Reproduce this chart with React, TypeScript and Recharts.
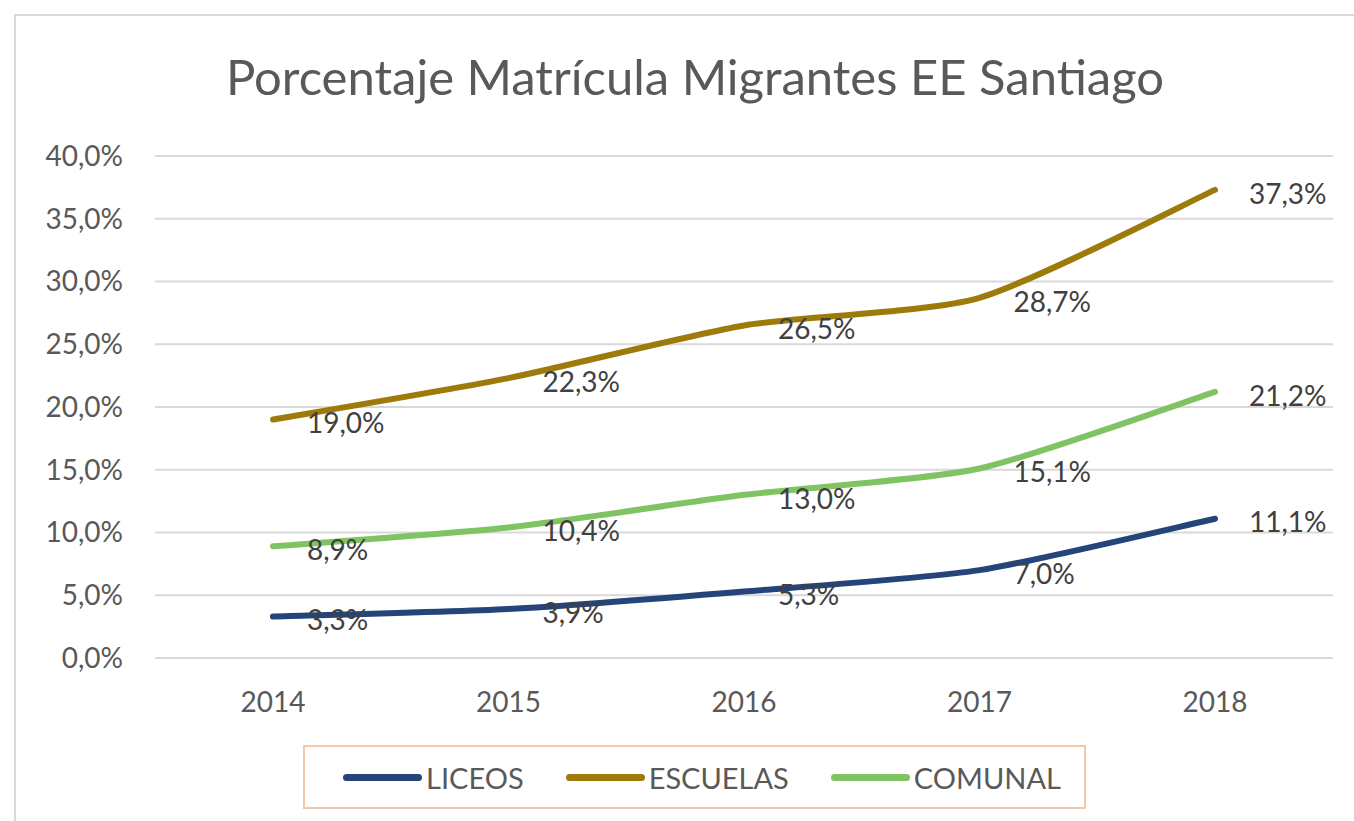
import React from 'react';
import { LineChart, Line, XAxis, YAxis, CartesianGrid, LabelList } from 'recharts';

const years = ['2014', '2015', '2016', '2017', '2018'];
const liceos = [3.3, 3.9, 5.3, 7.0, 11.1];
const escuelas = [19.0, 22.3, 26.5, 28.7, 37.3];
const comunal = [8.9, 10.4, 13.0, 15.1, 21.2];
const yTicks = [0, 5, 10, 15, 20, 25, 30, 35, 40];

const series = [
    { key: 'liceos', name: 'LICEOS', color: '#24447a' },
    { key: 'escuelas', name: 'ESCUELAS', color: '#9c7b0b' },
    { key: 'comunal', name: 'COMUNAL', color: '#80c363' },
];

const data = years.map((year, i) => ({
    year,
    liceos: liceos[i],
    escuelas: escuelas[i],
    comunal: comunal[i],
}));

const fmt = (v: number) => `${v.toFixed(1).replace('.', ',')}%`;
const FONT = 'Lato, "Open Sans", sans-serif';

// excel-like smoothed line (cardinal bezier, lower tension)
const curveSmooth = (context: any) => {
    let pts: number[][] = [];
    return {
        areaStart() {},
        areaEnd() {},
        lineStart() {
            pts = [];
        },
        point(x: number, y: number) {
            pts.push([+x, +y]);
        },
        lineEnd() {
            if (!pts.length) return;
            context.moveTo(pts[0][0], pts[0][1]);
            const t = 0.11;
            for (let i = 0; i < pts.length - 1; i++) {
                const p0 = pts[i - 1] || pts[i];
                const p1 = pts[i];
                const p2 = pts[i + 1];
                const p3 = pts[i + 2] || p2;
                context.bezierCurveTo(
                    p1[0] + (p2[0] - p0[0]) * t,
                    p1[1] + (p2[1] - p0[1]) * t,
                    p2[0] - (p3[0] - p1[0]) * t,
                    p2[1] - (p3[1] - p1[1]) * t,
                    p2[0],
                    p2[1]
                );
            }
        },
    };
};

const PointLabel = (props: any) => {
    const { x, y, value } = props;
    return (
        <text x={x + 34} y={y + 4} dy="0.35em" fill="#404040" fontSize={28} fontFamily={FONT} textAnchor="start">
            {fmt(value)}
        </text>
    );
};

const ChartLegend = () => (
    <div
        style={{
            position: 'absolute',
            left: 303,
            top: 745,
            width: 783,
            height: 64,
            border: '2px solid #f4c9ab',
            boxSizing: 'border-box',
            display: 'flex',
            alignItems: 'center',
            paddingLeft: 38,
        }}
    >
        {series.map((s) => (
            <div key={s.key} style={{ display: 'flex', alignItems: 'center', marginRight: 42 }}>
                <div style={{ width: 79, height: 7, borderRadius: 4, background: s.color }} />
                <span style={{ fontSize: 29, color: '#595959', marginLeft: 4 }}>{s.name}</span>
            </div>
        ))}
    </div>
);

export default function App() {
    return (
        <div
            style={{
                position: 'absolute',
                left: 0,
                top: 0,
                width: 1354,
                height: 821,
                overflow: 'hidden',
                background: '#fff',
                fontFamily: FONT,
            }}
        >
            <div
                style={{
                    position: 'absolute',
                    left: 14,
                    top: 14,
                    width: 1400,
                    height: 900,
                    border: '2px solid #d9d9d9',
                }}
            />
            <div
                style={{
                    position: 'absolute',
                    left: 0,
                    top: 47,
                    width: 1390,
                    textAlign: 'center',
                    fontSize: 49,
                    color: '#595959',
                }}
            >
                Porcentaje Matrícula Migrantes EE Santiago
            </div>
            <div style={{ position: 'absolute', left: 0, top: 0 }}>
                <LineChart width={1354} height={821} data={data} margin={{ top: 156, right: 21, left: 55, bottom: 103 }}>
                    <CartesianGrid vertical={false} stroke="#d9d9d9" strokeWidth={2} />
                    <XAxis
                        dataKey="year"
                        height={60}
                        padding={{ left: 118, right: 118 }}
                        axisLine={{ stroke: '#d9d9d9', strokeWidth: 2 }}
                        tickLine={false}
                        tickMargin={28}
                        tick={{ fill: '#595959', fontSize: 28, fontFamily: FONT }}
                    />
                    <YAxis
                        width={100}
                        domain={[0, 40]}
                        ticks={yTicks}
                        axisLine={false}
                        tickLine={false}
                        tickMargin={26}
                        tickFormatter={fmt}
                        tick={{ fill: '#595959', fontSize: 28, fontFamily: FONT }}
                    />
                    {series.map((s) => (
                        <Line
                            key={s.key}
                            type={curveSmooth as any}
                            dataKey={s.key}
                            name={s.name}
                            stroke={s.color}
                            strokeWidth={6}
                            strokeLinecap="round"
                            dot={false}
                            isAnimationActive={false}
                        >
                            <LabelList dataKey={s.key} content={<PointLabel />} />
                        </Line>
                    ))}
                </LineChart>
            </div>
            <ChartLegend />
        </div>
    );
}
